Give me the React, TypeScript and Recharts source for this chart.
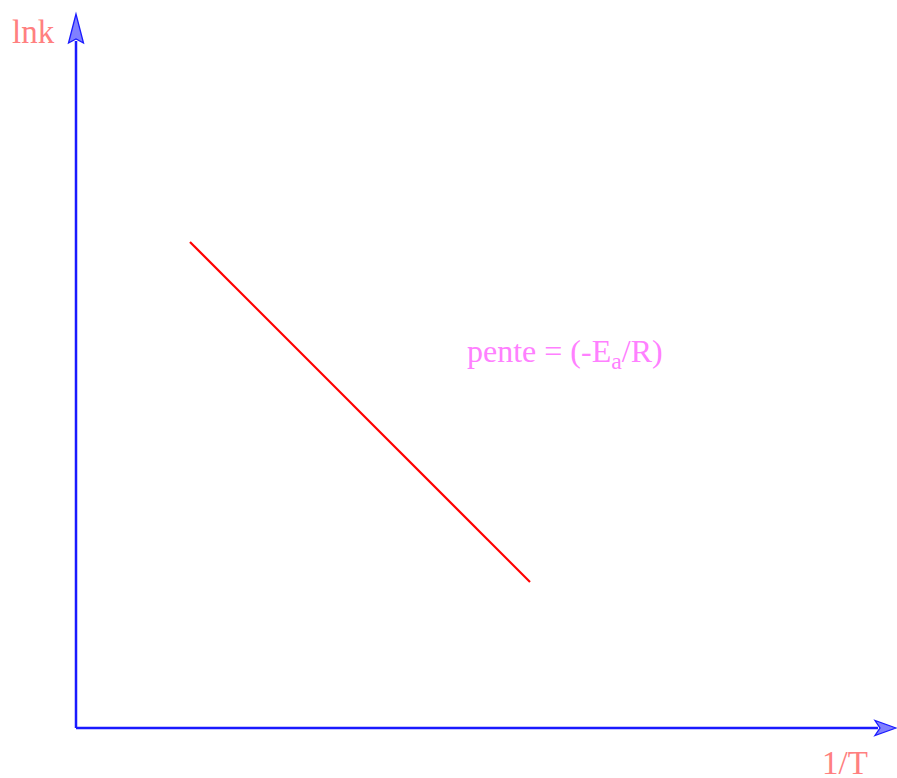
import React from 'react';
import { LineChart, Line, XAxis, YAxis, ReferenceLine, ReferenceDot } from 'recharts';

// Arrhenius plot: ln k against 1/T, a straight line of slope -Ea/R
const xDomain: [number, number] = [0, 8.2];
const yDomain: [number, number] = [0, 7.14];
const arrheniusLine = [
  { invT: 1.14, lnk: 4.86 },
  { invT: 4.54, lnk: 1.46 },
];
const axisLabels = { y: 'lnk', x: '1/T' };
const slopeText = { main: 'pente = (-E', sub: 'a', tail: '/R)' };

const AXIS = '#1a1aff';
const ARROW_FILL = '#8080ff';
const SERIF = '"Liberation Serif", "Times New Roman", serif';

const RightArrow = (p: any) => {
  const { cx, cy } = p;
  return (
    <polygon
      points={`${cx},${cy} ${cx - 21},${cy - 7.5} ${cx - 16},${cy} ${cx - 21},${cy + 7.5}`}
      fill={ARROW_FILL}
      stroke={AXIS}
      strokeWidth={1.3}
      strokeLinejoin="miter"
    />
  );
};

const UpArrow = (p: any) => {
  const { cx, cy } = p;
  return (
    <polygon
      points={`${cx},${cy} ${cx - 7.5},${cy + 29} ${cx},${cy + 25} ${cx + 7.5},${cy + 29}`}
      fill={ARROW_FILL}
      stroke={AXIS}
      strokeWidth={1.3}
      strokeLinejoin="miter"
    />
  );
};

const TextAt = (text: string, color: string, size: number) => (p: any) => (
  <text x={p.cx} y={p.cy} fill={color} fontSize={size} fontFamily={SERIF}>
    {text}
  </text>
);

const SlopeLabel = (p: any) => (
  <text x={p.cx} y={p.cy} fill="#ff80ff" fontSize={32} fontFamily={SERIF}>
    {slopeText.main}
    <tspan fontSize={24} dy={7}>{slopeText.sub}</tspan>
    <tspan dy={-7}>{slopeText.tail}</tspan>
  </text>
);

export default function App() {
  return (
    <div style={{ position: 'absolute', left: 0, top: 0, width: 897, height: 778, background: '#fff' }}>
      <LineChart width={897} height={778} data={arrheniusLine} margin={{ top: 14, right: 1, bottom: 50, left: 76 }}>
        <XAxis type="number" dataKey="invT" domain={xDomain} hide allowDataOverflow />
        <YAxis type="number" domain={yDomain} hide allowDataOverflow />
        <ReferenceLine
          segment={[{ x: 0, y: 0 }, { x: xDomain[1] - 0.18, y: 0 }]}
          stroke={AXIS}
          strokeWidth={2.5}
          ifOverflow="visible"
        />
        <ReferenceLine
          segment={[{ x: 0, y: 0 }, { x: 0, y: yDomain[1] - 0.27 }]}
          stroke={AXIS}
          strokeWidth={2.5}
          ifOverflow="visible"
        />
        <ReferenceDot x={xDomain[1]} y={0} ifOverflow="visible" shape={RightArrow} />
        <ReferenceDot x={0} y={yDomain[1]} ifOverflow="visible" shape={UpArrow} />
        <Line
          type="linear"
          dataKey="lnk"
          stroke="#ff0000"
          strokeWidth={2.2}
          dot={false}
          activeDot={false}
          isAnimationActive={false}
        />
        <ReferenceDot x={-0.64} y={6.85} ifOverflow="visible" shape={TextAt(axisLabels.y, '#ff8080', 33)} />
        <ReferenceDot x={7.46} y={-0.455} ifOverflow="visible" shape={TextAt(axisLabels.x, '#ff8080', 33)} />
        <ReferenceDot x={3.91} y={3.66} ifOverflow="visible" shape={SlopeLabel} />
      </LineChart>
    </div>
  );
}
